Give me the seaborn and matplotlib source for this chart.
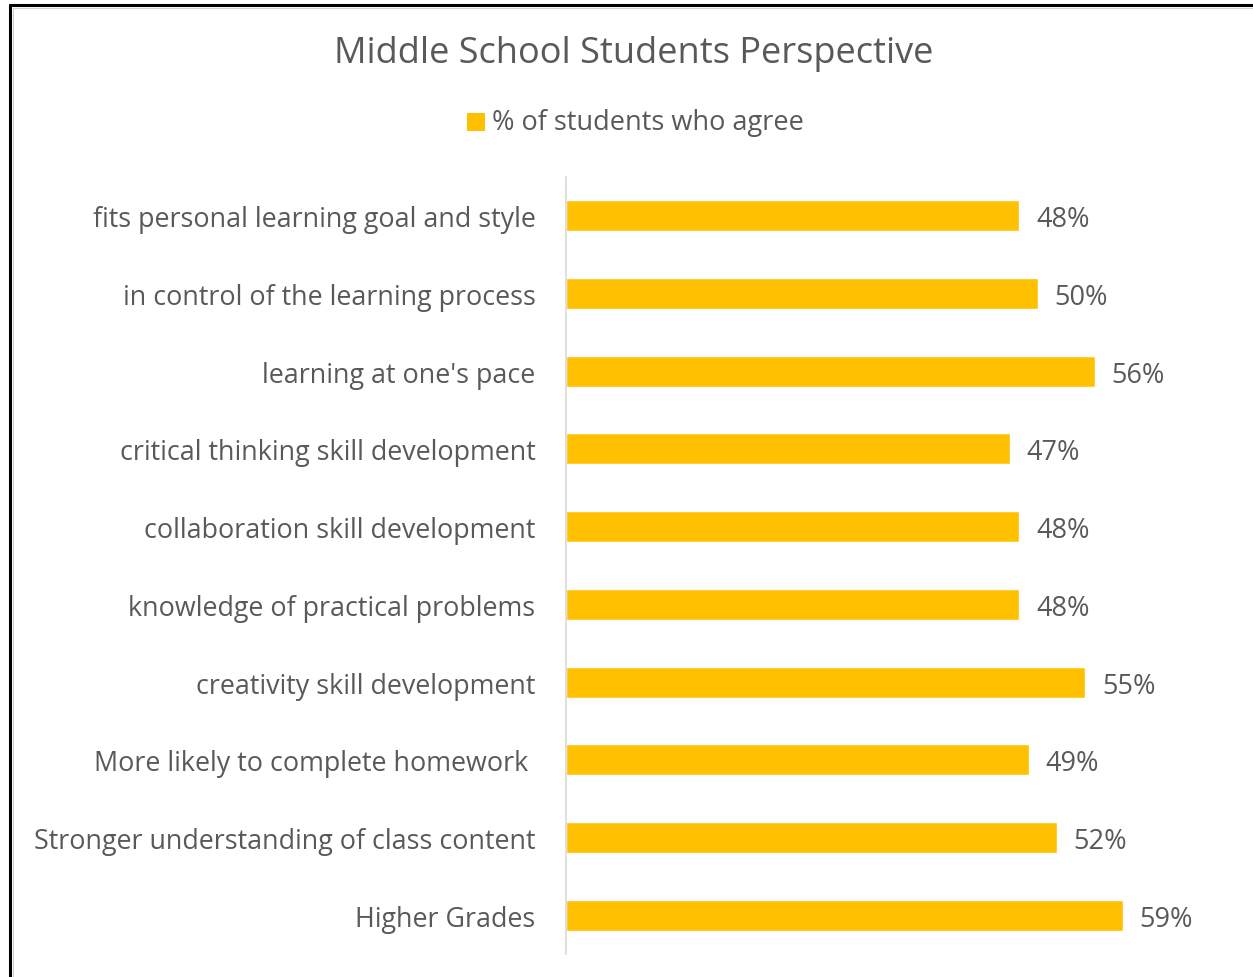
import matplotlib
matplotlib.use("Agg")
import matplotlib.pyplot as plt
from matplotlib.lines import Line2D
from matplotlib.patches import Rectangle
import seaborn as sns
import pandas as pd

categories = [
    "fits personal learning goal and style",
    "in control of the learning process",
    "learning at one's pace",
    "critical thinking skill development",
    "collaboration skill development",
    "knowledge of practical problems",
    "creativity skill development",
    "More likely to complete homework ",
    "Stronger understanding of class content",
    "Higher Grades",
]
agree_pct = [48, 50, 56, 47, 48, 48, 55, 49, 52, 59]
series_name = "% of students who agree"

df = pd.DataFrame({"item": categories, "pct": agree_pct})

sns.set_theme(style="white")
plt.rcParams["font.family"] = ["Open Sans", "DejaVu Sans"]

TEXT = "#595959"
GOLD = "#FFC000"
W, H = 1253, 978

fig = plt.figure(figsize=(W / 100, H / 100), dpi=100)
ax = fig.add_axes([566 / W, 1 - 955 / H, (1227 - 566) / W, (955 - 178) / H])

sns.barplot(data=df, x="pct", y="item", orient="h", color=GOLD,
            width=0.4, saturation=1, ax=ax)

ax.set_xlim(0, 70)
ax.set_ylim(len(categories) - 0.5, -0.5)
ax.set_xlabel("")
ax.set_ylabel("")
ax.set_xticks([])
for side in ["top", "right", "bottom"]:
    ax.spines[side].set_visible(False)
ax.spines["left"].set_color("#D9D9D9")
ax.spines["left"].set_linewidth(1.2)
ax.tick_params(axis="y", length=0, pad=22, labelsize=19.4, labelcolor=TEXT)

value_labels = ax.bar_label(ax.containers[0], labels=[f"{v}%" for v in agree_pct],
                            padding=12, fontsize=19.5, color=TEXT)
for t in value_labels:
    t.set_va("center_baseline")

fig.text(634 / W, 1 - 54 / H, "Middle School Students Perspective",
         ha="center", va="center", fontsize=26, color=TEXT)

# legend entry
fig.add_artist(Rectangle((467 / W, 1 - 132 / H), 18 / W, 18 / H,
                         transform=fig.transFigure, color=GOLD, lw=0))
fig.text(492 / W, 1 - 123 / H, series_name, ha="left", va="center",
         fontsize=19.5, color=TEXT)

# chart frame
fig.add_artist(Line2D([10 / W, 10 / W], [0, 1 - 6 / H], transform=fig.transFigure,
                      color="black", lw=2.2))
fig.add_artist(Line2D([10 / W, 1], [1 - 6 / H, 1 - 6 / H], transform=fig.transFigure,
                      color="black", lw=2.2))
fig.add_artist(Line2D([12.5 / W, 12.5 / W], [0, 1 - 8.5 / H], transform=fig.transFigure,
                      color="#D0D0D0", lw=0.8))
fig.add_artist(Line2D([12.5 / W, 1], [1 - 8.5 / H, 1 - 8.5 / H], transform=fig.transFigure,
                      color="#D0D0D0", lw=0.8))

fig.savefig("out.png", dpi=100)
